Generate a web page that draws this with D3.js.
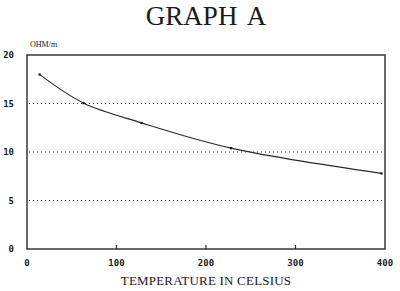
<!DOCTYPE html>
<html>
<head>
<meta charset="utf-8">
<script src="https://cdn.jsdelivr.net/npm/d3@7"></script>
<style>
  body { margin: 0; background: #fff; }
  text { fill: #1a1a1a; }
</style>
</head>
<body>
<svg id="chart"></svg>
<script>
// readings
const temps = [14, 63, 128, 228, 396];
const ohms = [18.0, 15.05, 13.0, 10.4, 7.8];
const xTicks = [0, 100, 200, 300, 400];
const yTicks = [0, 5, 10, 15, 20];
const gridVals = [5, 10, 15];

const width = 400, height = 291;
const margin = {top: 55, left: 27, right: 15, bottom: 42};

const svg = d3.select("#chart")
  .attr("width", width)
  .attr("height", height);

const x = d3.scaleLinear().domain([0, 400]).range([margin.left, width - margin.right]);
const y = d3.scaleLinear().domain([0, 20]).range([height - margin.bottom, margin.top]);

// title
svg.append("text")
  .attr("x", 206)
  .attr("y", 25)
  .attr("text-anchor", "middle")
  .style("font-family", "'Liberation Serif', 'DejaVu Serif', serif")
  .style("font-size", "27px")
  .style("word-spacing", "4px")
  .text("GRAPH A");

// dotted gridlines
svg.selectAll(".grid")
  .data(gridVals)
  .enter()
  .append("line")
  .attr("class", "grid")
  .attr("x1", x(0) + 2)
  .attr("x2", x(400) - 1)
  .attr("y1", d => y(d))
  .attr("y2", d => y(d))
  .attr("stroke", "#333")
  .attr("stroke-width", 1)
  .attr("stroke-dasharray", "1,3");

// frame
svg.append("rect")
  .attr("x", x(0))
  .attr("y", y(20))
  .attr("width", x(400) - x(0))
  .attr("height", y(0) - y(20))
  .attr("fill", "none")
  .attr("stroke", "#2a2a2a")
  .attr("stroke-width", 1.4);

// little inner ticks on bottom
svg.selectAll(".xtick")
  .data(xTicks.slice(1, -1))
  .enter()
  .append("line")
  .attr("x1", d => x(d))
  .attr("x2", d => x(d))
  .attr("y1", y(0))
  .attr("y2", y(0) - 4)
  .attr("stroke", "#2a2a2a")
  .attr("stroke-width", 1.2);

const tickFont = "'DejaVu Sans Mono', monospace";

svg.selectAll(".xlab")
  .data(xTicks)
  .enter()
  .append("text")
  .attr("x", d => x(d))
  .attr("y", y(0) + 17)
  .attr("text-anchor", "middle")
  .style("font-family", tickFont)
  .style("font-weight", "bold")
  .style("font-size", "9px")
  .text(d => d);

svg.selectAll(".ylab")
  .data(yTicks)
  .enter()
  .append("text")
  .attr("x", x(0) - 13)
  .attr("y", d => y(d) + 3)
  .attr("text-anchor", "end")
  .style("font-family", tickFont)
  .style("font-weight", "bold")
  .style("font-size", "9px")
  .text(d => d);

// unit label
svg.append("text")
  .attr("x", 30)
  .attr("y", 47)
  .style("font-family", "'Liberation Serif', serif")
  .style("font-size", "8px")
  .text("OHM/m");

// axis title
svg.append("text")
  .attr("x", 206)
  .attr("y", 285)
  .attr("text-anchor", "middle")
  .style("font-family", "'Liberation Serif', 'DejaVu Serif', serif")
  .style("font-size", "13px")
  .style("letter-spacing", "0.2px")
  .text("TEMPERATURE IN CELSIUS");

// the curve
const pts = temps.map((t, i) => [t, ohms[i]]);
const line = d3.line()
  .x(d => x(d[0]))
  .y(d => y(d[1]))
  .curve(d3.curveCatmullRom.alpha(0.5));

svg.append("path")
  .datum(pts)
  .attr("d", line)
  .attr("fill", "none")
  .attr("stroke", "#2a2a2a")
  .attr("stroke-width", 1.1);

svg.selectAll(".pt")
  .data(pts)
  .enter()
  .append("rect")
  .attr("x", d => x(d[0]) - 1)
  .attr("y", d => y(d[1]) - 1)
  .attr("width", 2.2)
  .attr("height", 2.2)
  .attr("fill", "#111");
</script>
</body>
</html>
